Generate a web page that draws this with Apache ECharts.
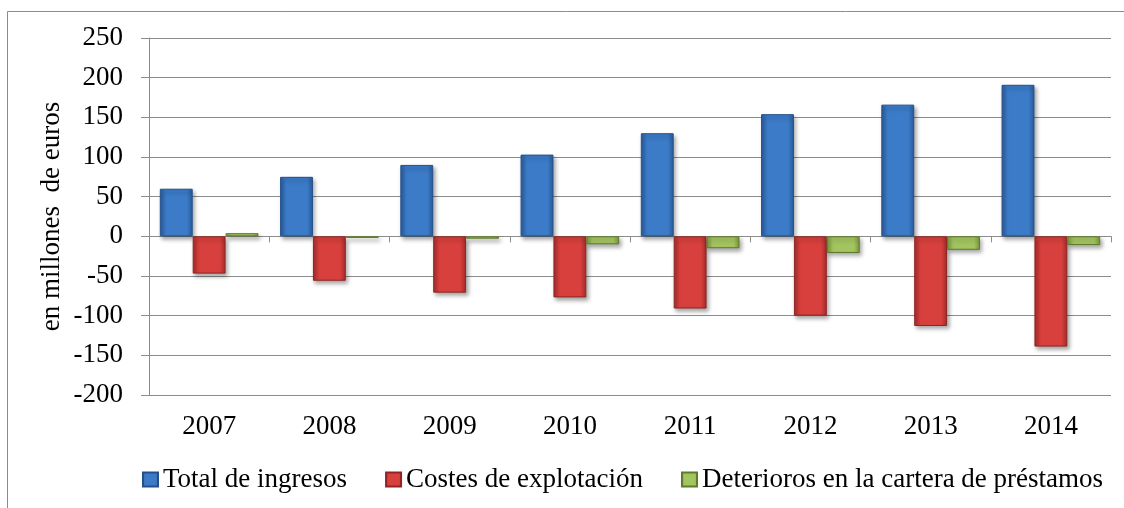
<!DOCTYPE html>
<html>
<head>
<meta charset="utf-8">
<script src="https://cdn.jsdelivr.net/npm/echarts@6/dist/echarts.min.js"></script>
<style>
  html, body { margin: 0; padding: 0; background: #fff; }
  #chart { width: 1124px; height: 508px; }
</style>
</head>
<body>
<div id="chart"></div>
<script>
var years = ['2007', '2008', '2009', '2010', '2011', '2012', '2013', '2014'];
var ingresos = [60, 75, 90, 103, 130, 154, 166, 191];
var costes = [-47, -56, -71, -77, -91, -100, -113, -139];
var deterioros = [4, -2, -3, -10, -15, -21, -17, -11];
var seriesNames = ['Total de ingresos', 'Costes de explotación', 'Deterioros en la cartera de préstamos'];

var serif = '"Liberation Serif", "Times New Roman", serif';
var gridGray = '#8c8c8c';
var fs = 27;

// relleno con efecto biselado (bordes oscuros, centro claro)
function bevel(edge, mid) {
    return new echarts.graphic.LinearGradient(0, 0, 1, 0, [
        { offset: 0, color: edge },
        { offset: 0.18, color: mid },
        { offset: 0.82, color: mid },
        { offset: 1, color: edge }
    ]);
}

function barSeries(name, data, edge, mid, border) {
    return {
        name: name,
        type: 'bar',
        xAxisIndex: 0,
        data: data,
        barGap: '0%',
        barCategoryGap: '18%',
        itemStyle: {
            color: bevel(edge, mid),
            borderColor: border,
            borderWidth: 1,
            shadowBlur: 4,
            shadowOffsetX: 2,
            shadowOffsetY: 3,
            shadowColor: 'rgba(0,0,0,0.35)'
        }
    };
}

var chart = echarts.init(document.getElementById('chart'));

var option = {
    animation: false,
    backgroundColor: '#fff',
    graphic: [{
        type: 'rect',
        shape: { x: 7.5, y: 11.5, width: 1300, height: 700 },
        style: { fill: 'none', stroke: gridGray, lineWidth: 1 },
        silent: true,
        z: -10
    }],
    legend: {
        left: 142,
        top: 466,
        padding: 0,
        itemWidth: 15,
        itemHeight: 14,
        itemGap: 38,
        icon: 'rect',
        data: seriesNames,
        textStyle: { fontFamily: serif, fontSize: fs, color: '#000' }
    },
    grid: {
        left: 149,
        right: 13,
        top: 38,
        bottom: 113
    },
    xAxis: [
        {
            type: 'category',
            data: years,
            axisLine: { onZero: true, lineStyle: { color: gridGray, width: 1 } },
            axisTick: { show: true, length: 6, lineStyle: { color: gridGray } },
            axisLabel: { show: false },
            splitLine: { show: false }
        },
        {
            type: 'category',
            data: years,
            position: 'bottom',
            axisLine: { show: false, onZero: false },
            axisTick: { show: false },
            axisLabel: { margin: 18, fontFamily: serif, fontSize: fs, color: '#000' },
            splitLine: { show: false }
        }
    ],
    yAxis: {
        type: 'value',
        min: -200,
        max: 250,
        interval: 50,
        name: 'en millones  de euros',
        nameLocation: 'middle',
        nameGap: 84,
        nameMoveOverlap: false,
        nameTextStyle: { fontFamily: serif, fontSize: fs, color: '#000' },
        axisLine: { show: true, lineStyle: { color: gridGray, width: 1 } },
        axisTick: { show: true, length: 8, lineStyle: { color: gridGray } },
        axisLabel: { margin: 26, fontFamily: serif, fontSize: fs, color: '#000' },
        splitLine: { lineStyle: { color: gridGray, width: 1 } }
    },
    series: [
        barSeries(seriesNames[0], ingresos, '#2a5b9c', '#3b7bc8', '#24508a'),
        barSeries(seriesNames[1], costes, '#a82c2a', '#d7403d', '#8f2523'),
        barSeries(seriesNames[2], deterioros, '#7a9a3c', '#a3c460', '#5e7a2a')
    ]
};
chart.setOption(option);
</script>
</body>
</html>
